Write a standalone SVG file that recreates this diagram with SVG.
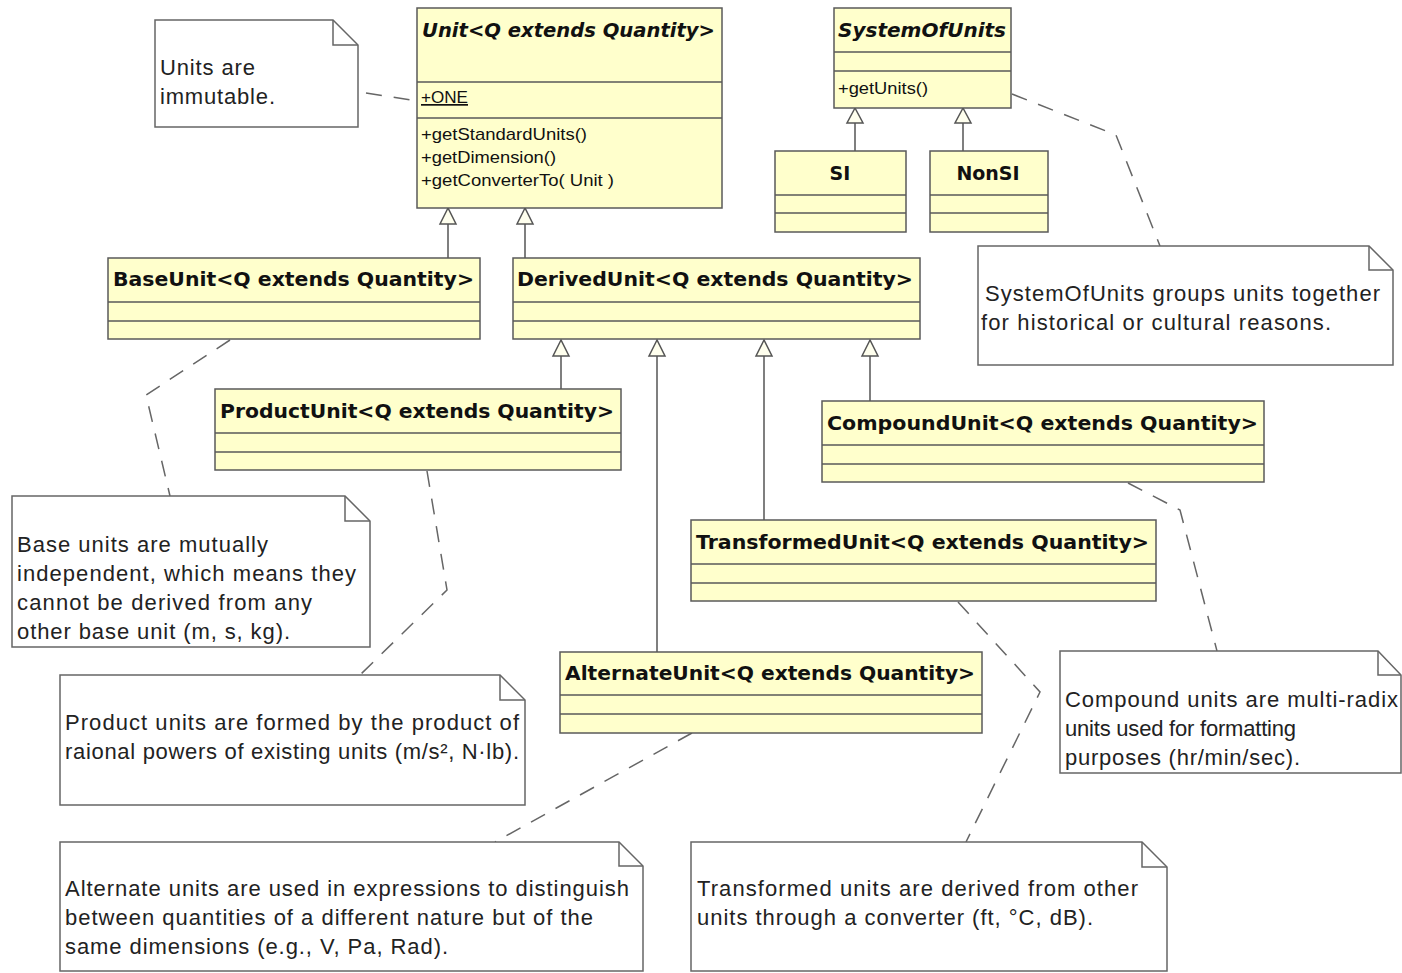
<svg xmlns="http://www.w3.org/2000/svg" width="1402" height="973" viewBox="0 0 1402 973">
<style>
.cls{fill:#ffffcc;stroke:#5a5a5a;stroke-width:1.5}
.div{stroke:#5a5a5a;stroke-width:1.5}
.note{fill:#ffffff;stroke:#666;stroke-width:1.5}
.fold{fill:none;stroke:#666;stroke-width:1.5}
.title{font-family:"DejaVu Sans",sans-serif;font-weight:bold;font-size:19px;fill:#111}
.ital{font-style:italic}
.mem{font-family:"Liberation Sans",Arial,sans-serif;font-size:17px;fill:#111}
.nt{font-family:"Liberation Sans",Arial,sans-serif;font-size:22px;fill:#222}
.gen{stroke:#555;stroke-width:1.5;fill:none}
.tri{fill:#ffffee;stroke:#555;stroke-width:1.5}
.dash{stroke:#666;stroke-width:1.5;fill:none;stroke-dasharray:16 12}
</style>
<rect width="1402" height="973" fill="#ffffff"/>

<g id="connectors">
  <path class="gen" d="M448 224V258M525 224V258M855 123V151M963 123V151M561 356V389M657 356V652M764 356V520M870 356V401"/>
  <path class="tri" d="M448 208L440 224H456Z"/>
  <path class="tri" d="M525 208L517 224H533Z"/>
  <path class="tri" d="M855 108L847 123H863Z"/>
  <path class="tri" d="M963 108L955 123H971Z"/>
  <path class="tri" d="M561 340L553 356H569Z"/>
  <path class="tri" d="M657 340L649 356H665Z"/>
  <path class="tri" d="M764 340L756 356H772Z"/>
  <path class="tri" d="M870 340L862 356H878Z"/>
  <path class="dash" d="M366 93L417 101"/>
  <path class="dash" d="M1012 94L1116 135L1160 246"/>
  <path class="dash" d="M230 340L146 395L170 496"/>
  <path class="dash" d="M427 471L447 590L360 675"/>
  <path class="dash" d="M1128 483L1180 510L1217 651"/>
  <path class="dash" d="M958 602L1040 692L966 842"/>
  <path class="dash" d="M692 733L495 842"/>
</g>

<g id="unit">
  <rect class="cls" x="417" y="8" width="305" height="200"/>
  <path class="div" d="M417 82H722M417 118H722"/>
  <text class="title ital" x="422" y="37" textLength="293" lengthAdjust="spacingAndGlyphs">Unit&lt;Q extends Quantity&gt;</text>
  <text class="mem" x="421" y="103" textLength="47" lengthAdjust="spacingAndGlyphs" text-decoration="underline">+ONE</text>
  <text class="mem" x="421" y="140" textLength="166" lengthAdjust="spacingAndGlyphs">+getStandardUnits()</text>
  <text class="mem" x="421" y="163" textLength="135" lengthAdjust="spacingAndGlyphs">+getDimension()</text>
  <text class="mem" x="421" y="186" textLength="193" lengthAdjust="spacingAndGlyphs">+getConverterTo( Unit )</text>
</g>

<g id="systemOfUnits">
  <rect class="cls" x="834" y="8" width="177" height="100"/>
  <path class="div" d="M834 52H1011M834 71H1011"/>
  <text class="title ital" x="838" y="37" textLength="168" lengthAdjust="spacingAndGlyphs">SystemOfUnits</text>
  <text class="mem" x="838" y="94" textLength="90" lengthAdjust="spacingAndGlyphs">+getUnits()</text>
</g>

<g id="si">
  <rect class="cls" x="775" y="151" width="131" height="81"/>
  <path class="div" d="M775 195H906M775 213H906"/>
  <text class="title" x="840" y="180" text-anchor="middle">SI</text>
</g>

<g id="nonsi">
  <rect class="cls" x="930" y="151" width="118" height="81"/>
  <path class="div" d="M930 195H1048M930 213H1048"/>
  <text class="title" x="988" y="180" text-anchor="middle">NonSI</text>
</g>

<g id="baseUnit">
  <rect class="cls" x="108" y="258" width="372" height="81"/>
  <path class="div" d="M108 302H480M108 321H480"/>
  <text class="title" x="113" y="286" textLength="361" lengthAdjust="spacingAndGlyphs">BaseUnit&lt;Q extends Quantity&gt;</text>
</g>

<g id="derivedUnit">
  <rect class="cls" x="513" y="258" width="407" height="81"/>
  <path class="div" d="M513 302H920M513 321H920"/>
  <text class="title" x="517" y="286" textLength="396" lengthAdjust="spacingAndGlyphs">DerivedUnit&lt;Q extends Quantity&gt;</text>
</g>

<g id="productUnit">
  <rect class="cls" x="215" y="389" width="406" height="81"/>
  <path class="div" d="M215 433H621M215 452H621"/>
  <text class="title" x="220" y="418" textLength="394" lengthAdjust="spacingAndGlyphs">ProductUnit&lt;Q extends Quantity&gt;</text>
</g>

<g id="compoundUnit">
  <rect class="cls" x="822" y="401" width="442" height="81"/>
  <path class="div" d="M822 445H1264M822 464H1264"/>
  <text class="title" x="827" y="430" textLength="431" lengthAdjust="spacingAndGlyphs">CompoundUnit&lt;Q extends Quantity&gt;</text>
</g>

<g id="transformedUnit">
  <rect class="cls" x="691" y="520" width="465" height="81"/>
  <path class="div" d="M691 564H1156M691 583H1156"/>
  <text class="title" x="696" y="549" textLength="453" lengthAdjust="spacingAndGlyphs">TransformedUnit&lt;Q extends Quantity&gt;</text>
</g>

<g id="alternateUnit">
  <rect class="cls" x="560" y="652" width="422" height="81"/>
  <path class="div" d="M560 695H982M560 714H982"/>
  <text class="title" x="565" y="680" textLength="410" lengthAdjust="spacingAndGlyphs">AlternateUnit&lt;Q extends Quantity&gt;</text>
</g>

<g id="noteImmutable">
  <path class="note" d="M155 20H333L358 45V127H155Z"/>
  <path class="fold" d="M333 20V45H358"/>
  <text class="nt" x="160" y="75" textLength="95">Units are</text>
  <text class="nt" x="160" y="104" textLength="115">immutable.</text>
</g>

<g id="noteSystem">
  <path class="note" d="M978 246H1369L1393 270V365H978Z"/>
  <path class="fold" d="M1369 246V270H1393"/>
  <text class="nt" x="985" y="301" textLength="395">SystemOfUnits groups units together</text>
  <text class="nt" x="981" y="330" textLength="350">for historical or cultural reasons.</text>
</g>

<g id="noteBase">
  <path class="note" d="M12 496H345L370 521V647H12Z"/>
  <path class="fold" d="M345 496V521H370"/>
  <text class="nt" x="17" y="552" textLength="251">Base units are mutually</text>
  <text class="nt" x="17" y="581" textLength="339">independent, which means they</text>
  <text class="nt" x="17" y="610" textLength="295">cannot be derived from any</text>
  <text class="nt" x="17" y="639" textLength="273">other base unit (m, s, kg).</text>
</g>

<g id="noteProduct">
  <path class="note" d="M60 675H500L525 700V805H60Z"/>
  <path class="fold" d="M500 675V700H525"/>
  <text class="nt" x="65" y="730" textLength="454">Product units are formed by the product of</text>
  <text class="nt" x="65" y="759" textLength="454">raional powers of existing units (m/s², N·lb).</text>
</g>

<g id="noteCompound">
  <path class="note" d="M1060 651H1378L1401 675V773H1060Z"/>
  <path class="fold" d="M1378 651V675H1401"/>
  <text class="nt" x="1065" y="707" textLength="333">Compound units are multi-radix</text>
  <text class="nt" x="1065" y="736" textLength="231">units used for formatting</text>
  <text class="nt" x="1065" y="765" textLength="235">purposes (hr/min/sec).</text>
</g>

<g id="noteAlternate">
  <path class="note" d="M60 842H619L643 866V971H60Z"/>
  <path class="fold" d="M619 842V866H643"/>
  <text class="nt" x="65" y="896" textLength="564">Alternate units are used in expressions to distinguish</text>
  <text class="nt" x="65" y="925" textLength="528">between quantities of a different nature but of the</text>
  <text class="nt" x="65" y="954" textLength="383">same dimensions (e.g., V, Pa, Rad).</text>
</g>

<g id="noteTransformed">
  <path class="note" d="M691 842H1142L1167 867V971H691Z"/>
  <path class="fold" d="M1142 842V867H1167"/>
  <text class="nt" x="697" y="896" textLength="441">Transformed units are derived from other</text>
  <text class="nt" x="697" y="925" textLength="396">units through a converter (ft, °C, dB).</text>
</g>
</svg>
